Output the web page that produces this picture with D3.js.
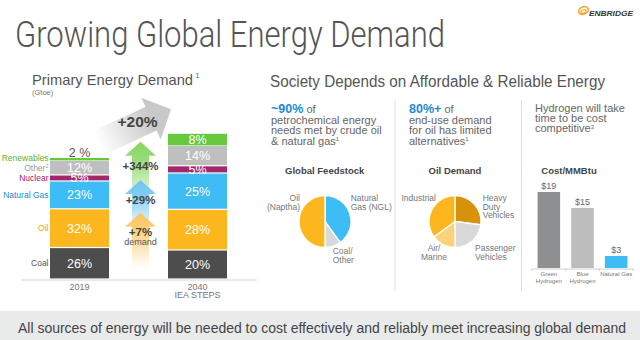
<!DOCTYPE html>
<html><head><meta charset="utf-8">
<script src="https://cdn.jsdelivr.net/npm/d3@7"></script>
<style>
html,body{margin:0;padding:0;background:#fff;}
svg{display:block;font-family:"Liberation Sans",Arial,Helvetica,sans-serif;}
</style>
</head><body>
<svg id="c" width="640" height="340"></svg>
<script>
// ---------------- DATA ----------------
const sources = ["Coal", "Oil", "Natural Gas", "Nuclear", "Other", "Renewables"];
const sourceColors = ["#4d4d4d", "#fdb71e", "#3dbcf6", "#a2286c", "#bfbfbf", "#66c93c"];
const labelColors = ["#555555", "#f0a500", "#1a8ad4", "#a0206a", "#999999", "#5bb531"];
const years = ["2019", "2040"];
const yearSubLabels = ["", "IEA STEPS"];
const yearTotals = [100, 120];           // demand index (+20%)
const shares2019 = [26, 32, 23, 5, 12, 2];
const shares2040 = [20, 28, 25, 5, 14, 8];
const totalGrowth = "+20%";
const growthLabels = ["+344%", "+29%", "+7%"];
const growthSub = ["", "", "demand"];
const growthColors = ["#86d663", "#6fc6f3", "#fdc660"];

const feedstockCats = ["Natural Gas (NGL)", "Coal/Other", "Oil (Naptha)"];
const feedstockVals = [40, 10, 50];
const feedstockColors = ["#3dbcf6", "#d9d9d9", "#fdb71e"];
const oilDemandCats = ["Heavy Duty Vehicles", "Passenger Vehicles", "Air/Marine", "Industrial"];
const oilDemandVals = [27, 23, 15, 35];
const oilDemandColors = ["#d6920b", "#d9d9d9", "#fdd27a", "#fdb71e"];
const costCats = ["Green Hydrogen", "Blue Hydrogen", "Natural Gas"];
const costVals = [19, 15, 3];
const costColors = ["#8d8f91", "#bdbdbd", "#3dbcf6"];

// ---------------- DRAW ----------------
const svg = d3.select("#c");
const defs = svg.append("defs");
const FONT = '"Liberation Sans",Arial,Helvetica,sans-serif';

// bottom band
svg.append("rect").attr("x", 0).attr("y", 311).attr("width", 640).attr("height", 29).attr("fill", "#e9eaea");
svg.append("text").attr("x", 18).attr("y", 332.5).attr("font-size", 14).attr("fill", "#444")
  .attr("textLength", 608).attr("lengthAdjust", "spacingAndGlyphs")
  .text("All sources of energy will be needed to cost effectively and reliably meet increasing global demand");

// title
svg.append("text").attr("x", 15).attr("y", 47).attr("font-size", 36).attr("fill", "#555")
  .attr("font-family", "Roboto, " + FONT).attr("font-weight", 300)
  .attr("textLength", 430).attr("lengthAdjust", "spacingAndGlyphs")
  .text("Growing Global Energy Demand");

// logo
const logo = svg.append("g");
logo.append("ellipse").attr("cx", 583.5).attr("cy", 10.5).attr("rx", 5).attr("ry", 3.6)
  .attr("transform", "rotate(-25 583.5 10.5)").attr("fill", "none").attr("stroke", "#f5a623").attr("stroke-width", 1.6);
logo.append("ellipse").attr("cx", 583.5).attr("cy", 11.5).attr("rx", 2.6).attr("ry", 1.6)
  .attr("transform", "rotate(-25 583.5 11.5)").attr("fill", "none").attr("stroke", "#f5a623").attr("stroke-width", 1.2);
logo.append("text").attr("x", 589).attr("y", 16).attr("font-size", 7.5).attr("font-weight", "bold")
  .attr("font-style", "italic").attr("fill", "#333").attr("textLength", 44).attr("lengthAdjust", "spacingAndGlyphs")
  .text("ENBRIDGE");

// ---------- Left panel: Primary Energy Demand ----------
svg.append("text").attr("x", 32).attr("y", 85).attr("font-size", 15).attr("fill", "#555")
  .attr("textLength", 161).attr("lengthAdjust", "spacingAndGlyphs").text("Primary Energy Demand");
svg.append("text").attr("x", 195.5).attr("y", 77.5).attr("font-size", 7).attr("fill", "#555").text("1");
svg.append("text").attr("x", 32).attr("y", 95).attr("font-size", 7.5).attr("fill", "#777").text("(Gtoe)");

const xb = d3.scaleBand().domain(years).range([20.5, 256.5]).paddingInner(0.5).paddingOuter(0.25);
const yb = d3.scaleLinear().domain([0, 120]).range([279, 133.8]);

const shareSets = [shares2019, shares2040];
const segments = [];
years.forEach((yr, i) => {
  let cum = 0;
  sources.forEach((s, j) => {
    const v = shareSets[i][j] * yearTotals[i] / 100;
    segments.push({ year: yr, yi: i, source: s, si: j, share: shareSets[i][j], y0: cum, y1: cum + v });
    cum += v;
  });
});

// axis line
const axisG = svg.append("g").attr("transform", "translate(0,279.5)")
  .call(d3.axisBottom(xb).tickSize(0).tickFormat(""));
axisG.select(".domain").attr("stroke", "#d5d5d5");
axisG.selectAll(".tick").remove();

svg.append("g").selectAll("rect").data(segments).join("rect")
  .attr("x", d => xb(d.year))
  .attr("width", xb.bandwidth())
  .attr("y", d => yb(d.y1) + (d.si === sources.length - 1 ? 0 : 0.6))
  .attr("height", d => Math.max(0.8, yb(d.y0) - yb(d.y1) - (d.si === sources.length - 1 ? 0 : 1.2)))
  .attr("fill", d => sourceColors[d.si]);

svg.append("g").selectAll("text").data(segments).join("text")
  .attr("x", d => xb(d.year) + xb.bandwidth() / 2)
  .attr("y", d => d.share >= 5 ? (yb(d.y0) + yb(d.y1)) / 2 : yb(d.y1) - 6)
  .attr("dy", "0.36em")
  .attr("text-anchor", "middle")
  .attr("font-size", 12.5)
  .attr("fill", d => d.share >= 5 ? "#fff" : "#555")
  .text(d => d.share >= 5 ? d.share + "%" : d.share + " %");

// year labels
years.forEach((yr, i) => {
  const cx = xb(yr) + xb.bandwidth() / 2;
  svg.append("text").attr("x", cx).attr("y", 289.5).attr("text-anchor", "middle")
    .attr("font-size", 9).attr("fill", "#777").text(yr);
  if (yearSubLabels[i]) svg.append("text").attr("x", cx).attr("y", 298).attr("text-anchor", "middle")
    .attr("font-size", 9).attr("fill", "#777").text(yearSubLabels[i]);
});

// source labels (left)
const legendPos = sources.map((s, j) => {
  const seg = segments.find(d => d.yi === 0 && d.si === j);
  return (yb(seg.y0) + yb(seg.y1)) / 2;
});
for (let j = 1; j < legendPos.length; j++) {
  if (legendPos[j - 1] - legendPos[j] < 10) legendPos[j] = legendPos[j - 1] - 10;
}
sources.forEach((s, j) => {
  const t = svg.append("text").attr("x", 48.5).attr("y", legendPos[j]).attr("dy", "0.36em")
    .attr("text-anchor", "end").attr("font-size", 8.5).attr("fill", labelColors[j]);
  t.append("tspan").text(s);
  if (s === "Other") t.append("tspan").attr("font-size", 5.5).attr("dy", "-0.5em").text("2");
});

// growth arrows
const cxArrow = 140.5;
const upArrows = [
  { tip: 141.7, end: 205 },
  { tip: 180, end: 232 },
  { tip: 212.7, end: 268 }
];
upArrows.forEach((a, i) => {
  const gid = "ug" + i;
  const g = defs.append("linearGradient").attr("id", gid).attr("x1", 0).attr("y1", 0).attr("x2", 0).attr("y2", 1);
  g.append("stop").attr("offset", "0").attr("stop-color", growthColors[i]);
  g.append("stop").attr("offset", "0.3").attr("stop-color", growthColors[i]).attr("stop-opacity", 0.85);
  g.append("stop").attr("offset", "1").attr("stop-color", growthColors[i]).attr("stop-opacity", 0);
  const hb = a.tip + 14, hw = 15.5, sw = 8.5;
  const p = d3.path();
  p.moveTo(cxArrow, a.tip); p.lineTo(cxArrow + hw, hb); p.lineTo(cxArrow + sw, hb);
  p.lineTo(cxArrow + sw, a.end); p.lineTo(cxArrow - sw, a.end); p.lineTo(cxArrow - sw, hb);
  p.lineTo(cxArrow - hw, hb); p.closePath();
  svg.append("path").attr("d", p.toString()).attr("fill", `url(#${gid})`);
});
const growthY = [170, 204.3, 235.7];
growthLabels.forEach((l, i) => {
  svg.append("text").attr("x", cxArrow).attr("y", growthY[i]).attr("text-anchor", "middle")
    .attr("font-size", 11.5).attr("font-weight", "bold").attr("fill", "#444").text(l);
  if (growthSub[i]) svg.append("text").attr("x", cxArrow).attr("y", growthY[i] + 9.3).attr("text-anchor", "middle")
    .attr("font-size", 9).attr("fill", "#555").text(growthSub[i]);
});

// big diagonal arrow
{
  const ang = -25 * Math.PI / 180;
  const ux = Math.cos(ang), uy = Math.sin(ang), nx = -uy, ny = ux;
  const tip = [171, 109.3];
  const hb = [tip[0] - 22 * ux, tip[1] - 22 * uy];
  const tail = [hb[0] - 58 * ux, hb[1] - 58 * uy];
  const H = 23, S = 13;
  const pts = [
    tip,
    [hb[0] + H * nx, hb[1] + H * ny],
    [hb[0] + S * nx, hb[1] + S * ny],
    [tail[0] + S * nx, tail[1] + S * ny],
    [tail[0] - S * nx, tail[1] - S * ny],
    [hb[0] - S * nx, hb[1] - S * ny],
    [hb[0] - H * nx, hb[1] - H * ny]
  ];
  const g = defs.append("linearGradient").attr("id", "bigArrow").attr("gradientUnits", "userSpaceOnUse")
    .attr("x1", tail[0]).attr("y1", tail[1]).attr("x2", tip[0]).attr("y2", tip[1]);
  g.append("stop").attr("offset", "0").attr("stop-color", "#c4c4c4").attr("stop-opacity", 0);
  g.append("stop").attr("offset", "0.7").attr("stop-color", "#c4c4c4").attr("stop-opacity", 0.9);
  g.append("stop").attr("offset", "1").attr("stop-color", "#c8c8c8");
  svg.append("path").attr("d", d3.line()(pts) + "Z").attr("fill", "url(#bigArrow)");
  svg.append("text").attr("x", 137.5).attr("y", 126.7).attr("text-anchor", "middle")
    .attr("font-size", 15.5).attr("font-weight", "bold").attr("fill", "#444").text(totalGrowth);
}

// ---------- Right panel ----------
svg.append("text").attr("x", 270).attr("y", 86.7).attr("font-size", 16).attr("fill", "#555")
  .attr("textLength", 335).attr("lengthAdjust", "spacingAndGlyphs")
  .text("Society Depends on Affordable & Reliable Energy");

// dividers
[395, 521.5].forEach(x => svg.append("line").attr("x1", x).attr("x2", x).attr("y1", 100).attr("y2", 291)
  .attr("stroke", "#dedede").attr("stroke-width", 1));

function para(x, y0, lh, lines, hl) {
  const t = svg.append("text").attr("font-size", 11).attr("fill", "#666");
  lines.forEach((ln, i) => {
    const ts = t.append("tspan").attr("x", x).attr("y", y0 + i * lh);
    if (i === 0 && hl) {
      ts.append("tspan").attr("font-weight", "bold").attr("fill", "#1c8ad0").attr("font-size", 12.5).text(hl);
    }
    const m = ln.match(/^(.*?)([¹³])?$/);
    ts.append("tspan").text(m[1]);
    if (m[2]) ts.append("tspan").attr("font-size", 6).attr("dy", "-3.5").text(m[2] === "¹" ? "1" : "3");
  });
}
para(271, 113.3, 10.5, [" of", "petrochemical energy", "needs met by crude oil", "& natural gas¹"], "~90%");
para(409, 113.3, 10.5, [" of", "end-use demand", "for oil has limited", "alternatives¹"], "80%+");
para(535, 111.7, 10.2, ["Hydrogen will take", "time to be cost", "competitive³"], null);

// chart titles
[["Global Feedstock", 324.7], ["Oil Demand", 455], ["Cost/MMBtu", 569]].forEach(([t, x]) =>
  svg.append("text").attr("x", x).attr("y", 174).attr("text-anchor", "middle").attr("font-size", 9.5)
    .attr("font-weight", "bold").attr("fill", "#444").text(t));

// pies
function drawPie(cx, cy, r, vals, colors, labels, labelLayout) {
  const pie = d3.pie().sort(null).value(d => d)(vals);
  const arc = d3.arc().innerRadius(0).outerRadius(r);
  const g = svg.append("g").attr("transform", `translate(${cx},${cy})`);
  g.selectAll("path").data(pie).join("path").attr("d", arc)
    .attr("fill", (d, i) => colors[i]).attr("stroke", "#fff").attr("stroke-width", 1.3);
  labels.forEach((lbl, i) => {
    const L = labelLayout[i];
    const t = g.append("text").attr("font-size", 8.5).attr("fill", "#777").attr("text-anchor", L.anchor);
    L.lines.forEach((ln, k) => t.append("tspan").attr("x", L.dx).attr("y", L.dy + k * 8.8).attr("dy", "0.36em").text(ln));
  });
}
drawPie(325, 221.5, 26, feedstockVals, feedstockColors, feedstockCats, [
  { lines: ["Natural", "Gas (NGL)"], dx: 25.7, dy: -23.8, anchor: "start" },
  { lines: ["Coal/", "Other"], dx: 7.7, dy: 29.2, anchor: "start" },
  { lines: ["Oil", "(Naptha)"], dx: -25, dy: -23.8, anchor: "end" }
]);
drawPie(455, 221.5, 26, oilDemandVals, oilDemandColors, oilDemandCats, [
  { lines: ["Heavy", "Duty", "Vehicles"], dx: 27.7, dy: -23.8, anchor: "start" },
  { lines: ["Passenger", "Vehicles"], dx: 20, dy: 26.8, anchor: "start" },
  { lines: ["Air/", "Marine"], dx: -21, dy: 26.8, anchor: "middle" },
  { lines: ["Industrial"], dx: -19, dy: -23.8, anchor: "end" }
]);

// cost bars
const xc = d3.scaleBand().domain(costCats).range([532, 633]).paddingInner(0.33).paddingOuter(0.165);
const yc = d3.scaleLinear().domain([0, 20]).range([268, 188]);
const cAxis = svg.append("g").attr("transform", "translate(0,268.5)")
  .call(d3.axisBottom(xc).tickSize(0).tickFormat(""));
cAxis.select(".domain").attr("stroke", "#d0d0d0");
cAxis.selectAll(".tick").remove();
const bounds = costCats.map(c => xc(c) - xc.step() * xc.paddingInner() / 2).concat([xc(costCats[costCats.length - 1]) + xc.bandwidth() + xc.step() * xc.paddingInner() / 2]);
svg.append("g").selectAll("line").data(bounds).join("line")
  .attr("x1", d => d).attr("x2", d => d).attr("y1", 268.5).attr("y2", 271)
  .attr("stroke", "#d0d0d0");
svg.append("g").selectAll("rect").data(costVals).join("rect")
  .attr("x", (d, i) => xc(costCats[i])).attr("width", xc.bandwidth())
  .attr("y", d => yc(d)).attr("height", d => yc(0) - yc(d))
  .attr("fill", (d, i) => costColors[i]);
svg.append("g").selectAll("text").data(costVals).join("text")
  .attr("x", (d, i) => xc(costCats[i]) + xc.bandwidth() / 2).attr("y", d => yc(d) - 2.8)
  .attr("text-anchor", "middle").attr("font-size", 9).attr("fill", "#666").text(d => "$" + d);
costCats.forEach(c => {
  const parts = c.includes("Hydrogen") ? c.split(" ") : [c];
  const t = svg.append("text").attr("text-anchor", "middle").attr("font-size", 6).attr("fill", "#777");
  parts.forEach((p, k) => t.append("tspan").attr("x", xc(c) + xc.bandwidth() / 2).attr("y", 275.5 + k * 7).text(p));
});
</script>
</body></html>
